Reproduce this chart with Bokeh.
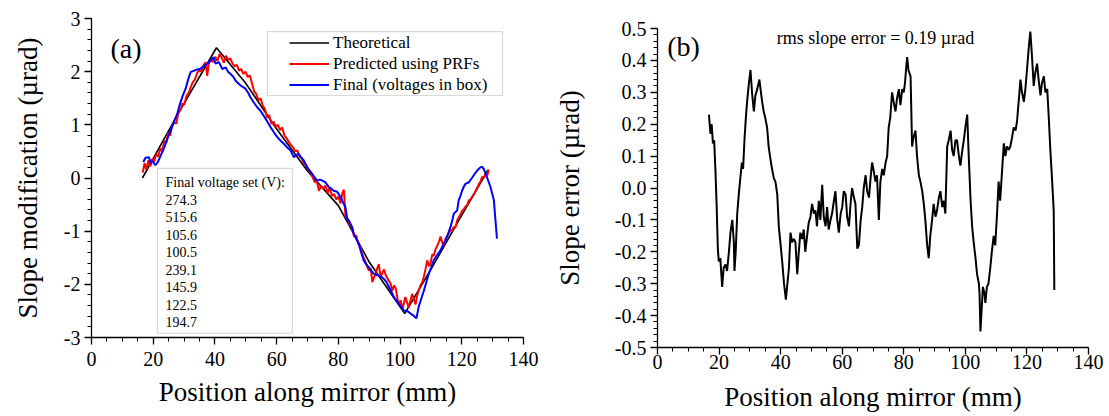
import numpy as np
from bokeh.plotting import figure
from bokeh.models import (Range1d, FixedTicker, PrintfTickFormatter, Legend,
                          LegendItem, Label, BoxAnnotation)
from bokeh.core.templates import get_env
from bokeh.embed import file_html
from bokeh.resources import INLINE

FONT = "Liberation Serif"

# ---------------- ticks ----------------
x_ticks = [0, 20, 40, 60, 80, 100, 120, 140]
ya_ticks = [-3, -2, -1, 0, 1, 2, 3]
yb_ticks = [-0.5, -0.4, -0.3, -0.2, -0.1, 0.0, 0.1, 0.2, 0.3, 0.4, 0.5]

# ---------------- data: panel (a) ----------------
theory_x = [16.5, 28.0, 40.5, 50.0, 60.0, 70.0, 80.0, 90.0, 101.5, 110.0, 120.0, 128.5]
theory_y = [0.00, 1.20, 2.45, 1.78, 0.92, 0.13, -0.52, -1.58, -2.55, -1.72, -0.70, 0.15]

pred_x = [16.6, 17.2, 17.8, 18.4, 19.1, 19.7, 20.3, 20.9, 21.6, 22.3, 22.9, 23.6, 24.2, 24.8,
          25.5, 26.1, 26.8, 27.5, 28.1, 28.8, 29.5, 30.1, 30.8, 31.5, 32.1, 32.8, 33.5, 34.2,
          34.9, 35.6, 36.3, 37.0, 37.5, 38.0, 38.7, 39.4, 40.1, 40.8, 41.5, 42.2, 42.9, 43.6,
          44.3, 45.0, 45.7, 46.4, 47.1, 47.8, 48.5, 49.2, 49.9, 50.6, 51.3, 52.0, 52.7, 53.4,
          54.1, 54.8, 55.5, 56.2, 56.9, 57.6, 58.3, 59.0, 59.7, 60.4, 61.1, 61.8, 62.5, 63.2,
          63.9, 64.6, 65.3, 66.0, 66.7, 67.4, 68.1, 68.8, 69.5, 70.2, 70.9, 71.6, 72.3, 73.0,
          73.7, 74.4, 75.1, 75.8, 76.5, 77.2, 77.9, 78.6, 79.3, 80.0, 80.7, 81.3, 81.8, 82.3,
          83.0, 83.7, 84.4, 85.1, 85.8, 86.5, 87.2, 87.9, 88.6, 89.3, 89.9, 90.5, 91.0, 91.6,
          92.1, 92.6, 93.1, 93.7, 94.3, 94.8, 95.5, 96.2, 96.9, 97.5, 98.1, 98.6, 99.2, 99.7,
          100.2, 100.7, 101.2, 101.7, 102.3, 102.8, 103.4, 103.9, 104.5, 105.0, 105.5, 106.0,
          106.6, 107.2, 107.7, 108.3, 108.8, 109.4, 109.9, 110.4, 110.9, 111.5, 112.0, 112.6,
          113.1, 113.7, 114.2, 114.7, 115.2, 115.8, 116.3, 116.9, 117.4, 117.9, 118.5, 119.0,
          119.6, 120.1, 120.7, 121.2, 121.8, 122.3, 122.9, 123.4, 124.0, 124.5, 125.0, 125.5,
          126.1, 126.6, 127.2, 127.7, 128.3, 128.7]
pred_y = [0.10, 0.28, 0.15, 0.33, 0.22, 0.36, 0.30, 0.45, 0.40, 0.56, 0.50, 0.70, 0.66, 0.85,
          0.80, 0.98, 1.05, 1.02, 1.22, 1.28, 1.40, 1.38, 1.55, 1.60, 1.70, 1.80, 1.85, 1.97,
          2.03, 2.00, 2.12, 2.18, 1.92, 2.15, 2.22, 2.18, 2.28, 2.20, 2.33, 2.26, 2.17, 2.30,
          2.22, 2.25, 2.15, 2.10, 2.13, 2.02, 2.05, 1.96, 2.00, 1.90, 1.93, 1.78, 1.63, 1.58,
          1.46, 1.50, 1.36, 1.30, 1.14, 1.18, 1.02, 1.06, 0.96, 1.00, 0.90, 0.95, 0.80, 0.75,
          0.68, 0.62, 0.58, 0.50, 0.52, 0.40, 0.38, 0.27, 0.25, 0.16, 0.12, 0.03, -0.08, -0.05,
          -0.24, -0.15, -0.20, -0.14, -0.28, -0.18, -0.34, -0.30, -0.40, -0.35, -0.48, -0.28, -0.22, -0.72,
          -0.76, -0.88, -0.92, -1.10, -1.08, -1.24, -1.30, -1.46, -1.55, -1.66, -1.74, -1.70, -1.96, -1.86,
          -1.80, -1.70, -1.62, -1.87, -1.78, -1.72, -1.85, -1.92, -1.98, -2.12, -2.02, -2.08, -2.28, -2.38,
          -2.30, -2.48, -2.36, -2.24, -2.34, -2.44, -2.30, -2.18, -2.28, -2.38, -2.22, -2.12,
          -2.02, -1.96, -1.86, -1.70, -1.55, -1.66, -1.60, -1.44, -1.46, -1.34, -1.28, -1.20,
          -1.10, -1.22, -1.28, -1.15, -1.10, -1.04, -0.98, -0.99, -0.92, -0.94, -0.80, -0.74,
          -0.68, -0.62, -0.58, -0.54, -0.50, -0.42, -0.40, -0.35, -0.30, -0.24, -0.18, -0.12,
          -0.06, 0.02, 0.00, 0.08, 0.05, 0.16]

final_x = [16.8, 17.5, 18.6, 19.2, 19.7, 20.7, 21.5, 22.4, 23.2, 24.0, 25.0, 26.1, 27.0, 27.8,
           28.6, 29.4, 30.5, 31.3, 32.1, 33.7, 35.0, 35.9, 37.5, 38.6, 39.6, 40.2, 41.3, 42.4,
           43.5, 44.2, 45.0, 46.0, 46.7, 48.3, 49.9, 50.8, 51.5, 52.6, 53.7, 54.8, 55.8, 57.0,
           58.0, 59.1, 60.2, 61.3, 62.4, 63.5, 64.5, 65.6, 66.4, 67.2, 68.0, 68.8, 69.9, 70.7,
           71.5, 72.3, 73.1, 74.0, 74.8, 75.8, 76.9, 77.7, 78.5, 79.6, 80.1, 81.2, 82.3, 82.9,
           83.4, 84.5, 85.0, 85.8, 86.6, 87.4, 88.2, 89.0, 89.9, 90.7, 91.5, 92.3, 93.1, 94.0,
           94.8, 95.6, 96.4, 97.2, 98.0, 98.8, 99.6, 100.4, 101.2, 102.0, 102.8, 103.6, 104.4,
           105.3, 106.0, 106.8, 107.7, 108.5, 109.3, 110.1, 110.9, 112.0, 113.1, 113.9, 114.7,
           115.5, 116.3, 117.0, 117.4, 118.5, 119.0, 119.6, 120.1, 120.7, 121.2, 122.3, 123.4,
           124.2, 125.0, 126.0, 126.6, 127.1, 128.2, 129.3, 130.4, 131.4]
final_y = [0.30, 0.38, 0.39, 0.28, 0.32, 0.24, 0.30, 0.42, 0.52, 0.64, 0.80, 0.96, 1.10, 1.21,
           1.38, 1.52, 1.68, 1.85, 1.99, 2.03, 2.05, 2.08, 2.15, 2.21, 2.27, 2.15, 2.18, 2.05,
           2.08, 2.00, 1.96, 1.90, 1.83, 1.74, 1.68, 1.60, 1.52, 1.42, 1.33, 1.26, 1.17, 1.06,
           0.96, 0.86, 0.77, 0.70, 0.64, 0.57, 0.52, 0.39, 0.44, 0.45, 0.38, 0.33, 0.20, 0.14,
           0.08, 0.01, -0.05, -0.03, -0.05, -0.08, -0.17, -0.20, -0.24, -0.26, -0.30, -0.42, -0.55, -0.78,
           -0.80, -0.93, -1.05, -1.15, -1.24, -1.40, -1.55, -1.62, -1.68, -1.75, -1.80, -1.82, -1.84, -1.86,
           -1.90, -1.96, -2.05, -2.14, -2.24, -2.30, -2.37, -2.43, -2.49, -2.50, -2.52, -2.56, -2.59,
           -2.64, -2.43, -2.28, -2.12, -1.96, -1.80, -1.68, -1.55, -1.45, -1.36, -1.26, -1.18,
           -1.06, -0.93, -0.78, -0.67, -0.61, -0.42, -0.33, -0.24, -0.16, -0.11, -0.08, 0.01,
           0.08, 0.14, 0.20, 0.21, 0.17, 0.01, -0.17, -0.42, -1.14]

voltages = ["274.3", "515.6", "105.6", "100.5", "239.1", "145.9", "122.5", "194.7"]
voltage_title = "Final voltage set (V):"

# ---------------- data: panel (b) ----------------
err_x = [16.7, 17.2, 17.6, 18.0, 18.4, 18.8, 19.2, 19.6, 19.9, 20.4, 21.0, 21.5, 22.1, 22.6,
         23.2, 23.7, 24.3, 24.8, 25.0, 25.4, 25.9, 26.4, 27.0, 27.4, 27.8, 28.3, 28.7, 29.1,
         29.6, 30.2, 30.7, 31.3, 31.8, 32.4, 33.1, 33.6, 34.0, 34.5, 35.0, 35.6, 36.1, 36.7,
         37.2, 37.8, 38.3, 38.9, 39.4, 40.0, 40.5, 41.1, 41.7, 42.2, 42.7, 43.2, 43.7, 44.3,
         44.8, 45.4, 45.9, 46.4, 47.0, 47.5, 48.0, 48.6, 49.1, 49.7, 50.2, 50.8, 51.3, 51.8,
         52.4, 52.9, 53.5, 54.0, 54.6, 55.1, 55.6, 56.2, 56.7, 57.3, 57.8, 58.4, 58.9, 59.5,
         60.0, 60.5, 61.1, 61.6, 62.2, 62.7, 63.2, 63.8, 64.3, 64.9, 65.4, 66.0, 66.5, 67.0,
         67.6, 68.1, 68.7, 69.2, 69.7, 70.3, 70.8, 71.3, 71.9, 72.4, 73.0, 73.5, 74.1, 74.6,
         75.1, 75.6, 76.2, 76.7, 77.3, 77.8, 78.4, 78.9, 79.5, 80.0, 80.4, 80.8, 81.1, 81.5,
         82.2, 82.7, 83.2, 83.8, 84.3, 84.9, 85.4, 86.0, 86.5, 87.0, 87.6, 88.1, 88.6, 89.2,
         89.7, 90.3, 90.8, 91.4, 91.9, 92.5, 93.0, 93.5, 94.1, 94.6, 95.2, 95.7, 96.2, 96.8,
         97.3, 97.9, 98.4, 98.9, 99.5, 100.0, 100.6, 101.1, 101.7, 102.2, 102.7, 103.3, 103.8,
         104.4, 104.6, 104.9, 105.3, 105.7, 106.2, 106.5, 107.0, 107.5, 108.1, 108.6, 109.2,
         109.7, 110.3, 110.8, 111.3, 111.9, 112.5, 113.0, 113.5, 114.1, 114.6, 115.2, 115.7,
         116.3, 116.8, 117.4, 117.9, 118.4, 119.0, 119.5, 120.1, 120.6, 121.1, 121.6, 122.2,
         122.7, 123.3, 123.8, 124.4, 124.9, 125.5, 126.0, 126.6, 127.1, 127.6, 128.2, 128.7, 128.9]
err_y = [0.23, 0.17, 0.20, 0.14, 0.15, 0.06, -0.05, -0.19, -0.23, -0.22, -0.31, -0.25, -0.24, -0.26,
         -0.20, -0.14, -0.10, -0.17, -0.26, -0.20, -0.08, -0.02, 0.04, 0.08, 0.06, 0.16, 0.22, 0.27,
         0.32, 0.37, 0.30, 0.24, 0.29, 0.31, 0.34, 0.30, 0.27, 0.24, 0.22, 0.19, 0.13, 0.09,
         0.06, 0.03, 0.02, -0.02, -0.12, -0.18, -0.23, -0.30, -0.35, -0.30, -0.25, -0.14, -0.17, -0.16,
         -0.17, -0.27, -0.20, -0.14, -0.16, -0.13, -0.20, -0.15, -0.11, -0.09, -0.05, -0.08, -0.07, -0.12,
         -0.04, -0.10, 0.01, -0.09, -0.12, -0.06, -0.13, -0.10, -0.08, -0.04, -0.01, -0.10, -0.14, -0.08,
         -0.06, -0.01, -0.02, -0.09, -0.12, -0.05, 0.00, -0.03, -0.05, -0.19, -0.18, -0.10, -0.06, 0.00,
         0.04, -0.01, -0.03, 0.03, 0.08, 0.05, 0.02, 0.04, -0.10, 0.02, 0.06, 0.04, 0.08, 0.10,
         0.19, 0.22, 0.30, 0.27, 0.24, 0.28, 0.31, 0.26, 0.31, 0.30, 0.33, 0.38, 0.41, 0.37,
         0.35, 0.13, 0.16, 0.18, 0.10, 0.04, 0.02, -0.01, -0.05, -0.10, -0.18, -0.22, -0.15, -0.10,
         -0.05, -0.09, -0.07, -0.03, -0.01, -0.06, -0.04, -0.08, 0.13, 0.15, 0.18, 0.12, 0.10, 0.15,
         0.15, 0.10, 0.07, 0.11, 0.15, 0.19, 0.23, 0.10, -0.04, -0.12, -0.17, -0.22, -0.27,
         -0.30, -0.33, -0.45, -0.38, -0.31, -0.33, -0.36, -0.31, -0.30, -0.25, -0.20, -0.15,
         -0.18, -0.08, 0.02, -0.04, 0.05, 0.14, 0.10, 0.13, 0.12, 0.13, 0.16, 0.19,
         0.18, 0.21, 0.28, 0.34, 0.30, 0.27, 0.31, 0.38, 0.44, 0.49, 0.42, 0.32,
         0.36, 0.39, 0.34, 0.29, 0.33, 0.35, 0.30, 0.31, 0.22, 0.12, 0.02, -0.07, -0.32]

rms_text = "rms slope error = 0.19 \u00b5rad"


def style_axes(p, yticks, yminor_step, yfmt):
    xminor = list(np.arange(x_ticks[0], x_ticks[-1] + 0.001, 5.0))
    yminor = list(np.round(np.arange(yticks[0], yticks[-1] + yminor_step / 2, yminor_step), 4))
    p.xaxis.ticker = FixedTicker(ticks=x_ticks, minor_ticks=xminor)
    p.yaxis.ticker = FixedTicker(ticks=yticks, minor_ticks=yminor)
    p.yaxis.formatter = PrintfTickFormatter(format=yfmt)
    p.xaxis.formatter = PrintfTickFormatter(format="%d")
    for ax in p.axis:
        ax.axis_line_color = "black"
        ax.axis_line_width = 1.3
        ax.major_tick_line_color = "black"
        ax.major_tick_line_width = 1.3
        ax.minor_tick_line_color = "black"
        ax.minor_tick_line_width = 1.0
        ax.major_tick_out = 7
        ax.major_tick_in = 0
        ax.minor_tick_out = 4
        ax.minor_tick_in = 0
        ax.major_label_text_font = FONT
        ax.major_label_text_font_size = "20px"
        ax.major_label_text_color = "black"
        ax.axis_label_text_font = FONT
        ax.axis_label_text_font_size = "27px"
        ax.axis_label_text_font_style = "normal"
        ax.axis_label_text_color = "black"
    p.xgrid.visible = False
    p.ygrid.visible = False
    p.outline_line_color = None
    p.background_fill_color = "white"
    p.border_fill_color = "white"


# ---------------- panel (a) ----------------
pa = figure(frame_width=432, frame_height=319, output_backend="svg", toolbar_location=None,
            x_range=Range1d(0, 140), y_range=Range1d(-3, 3),
            min_border_left=91, min_border_right=27, min_border_top=18, min_border_bottom=40)
style_axes(pa, ya_ticks, 0.2, "%d")
pa.xaxis.axis_label = "Position along mirror (mm)"
pa.yaxis.axis_label = "Slope modification (\u00b5rad)"
pa.yaxis.axis_label_standoff = 18
pa.xaxis.axis_label_standoff = 8
pa.xaxis.major_label_standoff = 7
pa.yaxis.major_label_standoff = 4

r_th = pa.line(theory_x, theory_y, line_color="black", line_width=1.6)
r_pr = pa.line(pred_x, pred_y, line_color="#ff0000", line_width=2.0)
r_fi = pa.line(final_x, final_y, line_color="#0000ff", line_width=2.0)

# legend frame (drawn separately to match the asymmetric padding)
pa.add_layout(BoxAnnotation(left=57.0, right=133.2, top=2.755, bottom=1.552,
                            fill_alpha=0, line_color="#808080", line_width=1.2))
legend = Legend(items=[LegendItem(label="Theoretical", renderers=[r_th]),
                       LegendItem(label="Predicted using PRFs", renderers=[r_pr]),
                       LegendItem(label="Final (voltages in box)", renderers=[r_fi])],
                location=(198, 242), padding=0, margin=0, spacing=0,
                glyph_width=40, glyph_height=21, label_height=21, label_standoff=4,
                border_line_color=None, background_fill_alpha=0,
                label_text_font=FONT, label_text_font_size="17px", label_text_color="black")
pa.add_layout(legend)

# voltage box
pa.add_layout(BoxAnnotation(left=21.4, right=65.1, top=0.18, bottom=-2.92,
                            fill_alpha=0, line_color="#808080", line_width=1.2))
line_step = 0.329
pa.add_layout(Label(x=24.0, y=-0.084, text=voltage_title, text_font=FONT,
                    text_font_size="14px", text_baseline="middle", text_color="black"))
for i, v in enumerate(voltages):
    pa.add_layout(Label(x=24.0, y=-0.084 - line_step * (i + 1), text=v, text_font=FONT,
                        text_font_size="14px", text_baseline="middle", text_color="black"))

pa.add_layout(Label(x=11.2, y=2.436, text="(a)", text_font=FONT, text_font_size="28px",
                    text_align="center", text_baseline="middle", text_color="black"))

# ---------------- panel (b) ----------------
pb = figure(frame_width=431, frame_height=319, output_backend="svg", toolbar_location=None,
            x_range=Range1d(0, 140), y_range=Range1d(-0.5, 0.5),
            min_border_left=107, min_border_right=18, min_border_top=28, min_border_bottom=40)
style_axes(pb, yb_ticks, 0.02, "%.1f")
pb.xaxis.axis_label = "Position along mirror (mm)"
pb.yaxis.axis_label = "Slope error (\u00b5rad)"
pb.yaxis.axis_label_standoff = 27
pb.xaxis.axis_label_standoff = 10
pb.xaxis.major_label_standoff = 0
pb.yaxis.major_label_standoff = 4

pb.line(err_x, err_y, line_color="black", line_width=2.0)
pb.add_layout(Label(x=8.44, y=0.4436, text="(b)", text_font=FONT, text_font_size="28px",
                    text_align="center", text_baseline="middle", text_color="black"))
pb.add_layout(Label(x=70.8, y=0.469, text=rms_text, text_font=FONT, text_font_size="18px",
                    text_align="center", text_baseline="middle", text_color="black"))

# The two panels are independent roots placed side by side, so that each keeps
# its own frame position (a Bokeh row would align their frames).
SIDE_BY_SIDE = get_env().from_string("""{% extends "file.html" %}
{% block postamble %}
<style>
  html, body { overflow: hidden; }
  body { display: flex; flex-direction: row; align-items: flex-start; }
  body * { flex-shrink: 0; }
</style>
{% endblock %}""")

p = [pa, pb]
open("out.html", "w").write(file_html(p, INLINE, template=SIDE_BY_SIDE))
